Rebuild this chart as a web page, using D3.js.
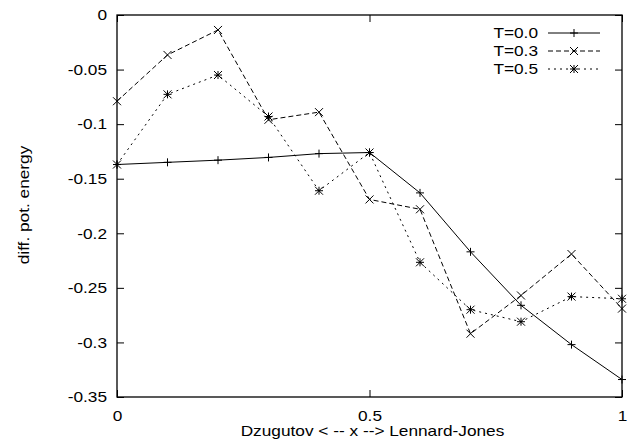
<!DOCTYPE html>
<html>
<head>
<meta charset="utf-8">
<script src="https://cdn.jsdelivr.net/npm/d3@7"></script>
<style>
  body { margin: 0; background: #fff; }
  svg { font-family: "Liberation Sans", Arial, sans-serif; }
</style>
</head>
<body>
<div id="chart"></div>
<script>
// values
const xValues = [0, 0.1, 0.2, 0.3, 0.4, 0.5, 0.6, 0.7, 0.8, 0.9, 1.0];
const t00 = [-0.137, -0.135, -0.133, -0.1305, -0.127, -0.126, -0.163, -0.217, -0.266, -0.302, -0.334];
const t03 = [-0.079, -0.0366, -0.0137, -0.096, -0.089, -0.169, -0.178, -0.292, -0.257, -0.219, -0.269];
const t05 = [-0.137, -0.0727, -0.055, -0.093, -0.161, -0.126, -0.2266, -0.27, -0.281, -0.258, -0.26];
const seriesNames = ["T=0.0", "T=0.3", "T=0.5"];
const yTicks = [0, -0.05, -0.1, -0.15, -0.2, -0.25, -0.3, -0.35];
const xTicks = [0, 0.5, 1];

const width = 634, height = 443;
const margin = { top: 15, right: 12, bottom: 46, left: 117 };
const plotW = width - margin.left - margin.right;
const plotH = height - margin.top - margin.bottom;
const fontSize = "15px";
const stretch = 1.15; // the reference text is a bit wider than Liberation Sans

const svg = d3.select("#chart")
  .append("svg")
  .attr("width", width)
  .attr("height", height);

const g = svg.append("g")
  .attr("transform", "translate(" + margin.left + "," + margin.top + ")");

const xScale = d3.scaleLinear().domain([0, 1]).range([0, plotW]);
const yScale = d3.scaleLinear().domain([-0.35, 0]).range([plotH, 0]);

const fmt = d => d === 0 ? "0" : String(d);

// widen text glyphs horizontally
function widen(sel) {
  sel.each(function() {
    const len = this.getComputedTextLength();
    if (len > 0) {
      d3.select(this)
        .attr("textLength", len * stretch)
        .attr("lengthAdjust", "spacingAndGlyphs");
    }
  });
}

// axes, gnuplot style: inward ticks, mirrored
const axisStyle = sel => {
  sel.select(".domain").remove();
  sel.selectAll("line").attr("stroke", "#000").attr("stroke-width", 1);
  sel.selectAll("text").attr("fill", "#000").style("font-size", fontSize).call(widen);
};

g.append("g")
  .call(d3.axisLeft(yScale).tickValues(yTicks).tickFormat(fmt).tickSizeInner(-7).tickPadding(10))
  .call(axisStyle);
g.append("g")
  .attr("transform", "translate(" + plotW + ",0)")
  .call(d3.axisRight(yScale).tickValues(yTicks).tickFormat("").tickSizeInner(-7))
  .call(axisStyle);
g.append("g")
  .attr("transform", "translate(0," + plotH + ")")
  .call(d3.axisBottom(xScale).tickValues(xTicks).tickFormat(fmt).tickSizeInner(-7).tickPadding(13))
  .call(axisStyle);
g.append("g")
  .call(d3.axisTop(xScale).tickValues(xTicks).tickFormat("").tickSizeInner(-7))
  .call(axisStyle);

g.append("rect")
  .attr("width", plotW)
  .attr("height", plotH)
  .attr("fill", "none")
  .attr("stroke", "#000")
  .attr("stroke-width", 1.3);

// axis labels
svg.append("text")
  .attr("x", margin.left + plotW / 2 + 3)
  .attr("y", 436)
  .attr("text-anchor", "middle")
  .style("font-size", fontSize)
  .text("Dzugutov < -- x --> Lennard-Jones")
  .call(widen);

svg.append("text")
  .attr("transform", "translate(29," + (margin.top + plotH / 2 - 1) + ") rotate(-90)")
  .attr("text-anchor", "middle")
  .style("font-size", fontSize)
  .text("diff. pot. energy")
  .call(widen);

// markers
const s = 4;
function drawMarker(sel, type) {
  const p = d3.path();
  if (type === "plus" || type === "star") {
    p.moveTo(-s, 0); p.lineTo(s, 0);
    p.moveTo(0, -s); p.lineTo(0, s);
  }
  if (type === "cross" || type === "star") {
    p.moveTo(-s, -s); p.lineTo(s, s);
    p.moveTo(-s, s); p.lineTo(s, -s);
  }
  sel.append("path").attr("d", p.toString()).attr("stroke", "#000").attr("stroke-width", 1).attr("fill", "none");
}

const series = [
  { name: seriesNames[0], values: t00, dash: null, marker: "plus" },
  { name: seriesNames[1], values: t03, dash: "5,3", marker: "cross" },
  { name: seriesNames[2], values: t05, dash: "2,4", marker: "star" }
];

const line = d3.line()
  .x((d, i) => xScale(xValues[i]))
  .y(d => yScale(d));

series.forEach(sr => {
  g.append("path")
    .datum(sr.values)
    .attr("d", line)
    .attr("fill", "none")
    .attr("stroke", "#000")
    .attr("stroke-width", 1)
    .attr("stroke-dasharray", sr.dash);
  sr.values.forEach((v, i) => {
    g.append("g")
      .attr("transform", "translate(" + xScale(xValues[i]) + "," + yScale(v) + ")")
      .call(drawMarker, sr.marker);
  });
});

// legend
const legend = svg.append("g");
series.forEach((sr, i) => {
  const y = 33 + i * 18;
  legend.append("text")
    .attr("x", 538)
    .attr("y", y)
    .attr("dy", "0.35em")
    .attr("text-anchor", "end")
    .style("font-size", fontSize)
    .text(sr.name)
    .call(widen);
  legend.append("line")
    .attr("x1", 548).attr("x2", 600)
    .attr("y1", y).attr("y2", y)
    .attr("stroke", "#000")
    .attr("stroke-width", 1)
    .attr("stroke-dasharray", sr.dash);
  legend.append("g")
    .attr("transform", "translate(574," + y + ")")
    .call(drawMarker, sr.marker);
});
</script>
</body>
</html>
